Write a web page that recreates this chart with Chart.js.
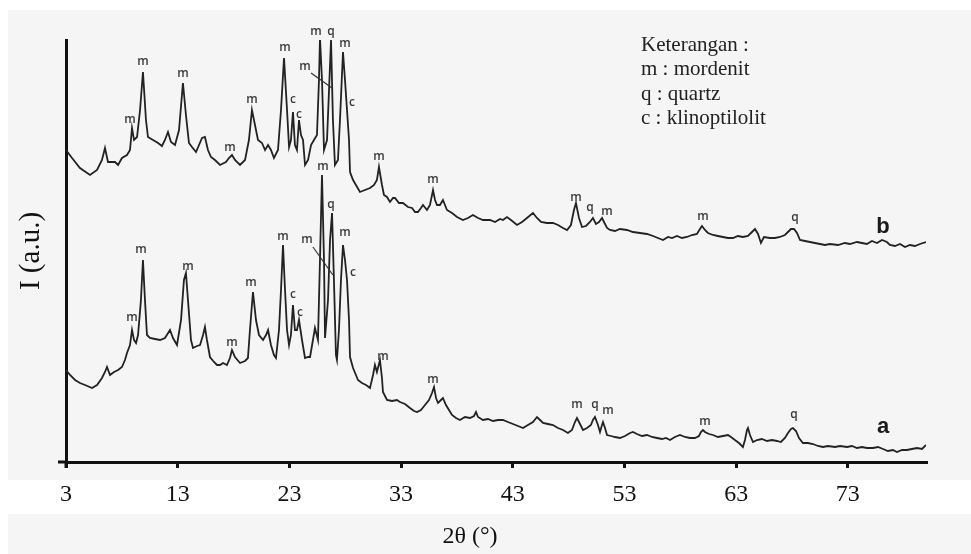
<!DOCTYPE html>
<html>
<head>
<meta charset="utf-8">
<title>XRD zeolit</title>
<script src="https://cdn.jsdelivr.net/npm/chart.js@4.4.1/dist/chart.umd.min.js"></script>
<style>
  body { margin: 0; background: #fff; }
  canvas { display: block; }
</style>
</head>
<body>
<canvas id="xrd" width="971" height="554"></canvas>
<script>
// trace b (upper)
const twoThetaB = [3.00,3.54,4.25,5.15,5.78,6.22,6.49,6.76,7.39,7.66,8.01,8.46,8.73,8.91,9.09,9.36,9.63,9.89,10.16,10.34,
  10.79,11.24,11.59,11.86,12.13,12.40,12.76,13.12,13.47,13.74,14.01,14.28,14.64,14.91,15.18,15.44,15.71,15.98,16.34,16.79,
  17.32,17.59,17.86,18.13,18.58,19.03,19.38,19.65,19.92,20.19,20.55,20.82,21.09,21.35,21.62,21.98,22.25,22.52,22.79,22.97,
  23.14,23.32,23.50,23.68,23.86,24.04,24.22,24.40,24.67,24.94,25.20,25.47,25.65,25.74,25.92,26.10,26.37,26.55,26.73,26.90,
  27.08,27.35,27.53,27.80,27.98,28.16,28.34,28.43,28.70,28.96,29.32,29.77,30.22,30.58,30.84,31.02,31.29,31.47,31.74,32.01,
  32.28,32.46,32.81,33.17,33.62,33.98,34.25,34.51,34.78,34.96,35.32,35.59,35.86,36.04,36.22,36.48,36.75,37.11,37.56,38.01,
  38.54,38.99,39.44,39.89,40.33,40.96,41.41,41.86,42.12,42.48,42.84,43.38,43.83,44.27,44.81,45.17,45.53,46.06,46.60,47.05,
  47.50,47.86,48.21,48.48,48.66,48.93,49.20,49.56,49.91,50.18,50.45,50.72,50.99,51.17,51.44,51.71,52.15,52.60,53.23,53.76,
  54.39,55.02,55.56,56.00,56.45,56.90,57.26,57.70,58.15,58.60,59.05,59.49,59.76,59.94,60.21,60.48,60.93,61.37,61.82,62.27,
  62.72,63.16,63.61,64.06,64.42,64.69,64.96,65.22,65.49,66.03,66.48,66.92,67.37,67.64,67.91,68.18,68.45,68.72,69.16,69.61,
  70.06,70.51,70.95,71.40,72.12,72.74,73.19,73.82,74.27,74.71,75.16,75.61,76.06,76.50,76.77,77.22,77.67,78.12,78.56,79.01,
  79.46,80.00];
const intensityB = [312,304,294,287,292,302,314,300,300,297,304,307,312,334,322,325,352,390,342,325,
  322,319,316,322,330,320,317,332,379,347,319,315,310,317,324,325,312,305,302,297,
  300,304,307,302,297,302,322,352,337,322,319,312,317,312,304,312,352,404,352,315,
  322,350,317,312,342,327,322,297,302,317,322,327,382,424,382,312,322,372,422,342,
  297,302,342,410,382,352,322,290,282,277,270,272,274,277,282,295,277,267,265,260,
  264,264,259,259,255,254,250,250,254,257,252,257,272,262,257,257,262,252,249,245,
  242,244,247,244,242,242,240,243,242,245,242,237,240,244,249,244,240,239,239,237,
  234,232,237,252,259,244,235,236,240,244,238,240,244,240,234,232,231,233,232,230,
  229,228,226,224,222,225,224,226,224,225,227,228,233,236,232,229,227,226,225,224,
  224,226,225,226,230,233,228,219,225,224,224,225,227,230,233,233,229,222,221,220,
  219,218,217,218,217,219,218,220,219,218,221,219,222,220,217,216,218,215,217,216,
  218,220];

// trace a (lower)
const twoThetaA = [3.00,3.36,3.81,4.25,4.70,5.33,5.78,6.22,6.49,6.67,6.94,7.30,7.66,8.01,8.28,8.46,8.73,8.91,9.09,9.27,
  9.45,9.71,9.89,10.07,10.25,10.52,10.97,11.42,11.86,12.31,12.58,12.94,13.30,13.56,13.74,13.92,14.19,14.37,14.73,15.00,
  15.27,15.44,15.62,15.89,16.25,16.52,16.79,17.06,17.41,17.68,17.86,18.13,18.58,19.03,19.29,19.47,19.74,20.01,20.28,20.64,
  20.91,21.09,21.35,21.62,21.80,22.07,22.25,22.43,22.61,22.79,22.97,23.14,23.32,23.50,23.68,23.86,24.13,24.40,24.67,24.85,
  25.11,25.29,25.56,25.74,25.92,26.10,26.19,26.46,26.64,26.82,26.99,27.17,27.26,27.44,27.62,27.80,27.98,28.16,28.34,28.43,
  28.70,28.96,29.14,29.50,29.86,30.22,30.49,30.66,30.84,31.11,31.29,31.38,31.74,32.19,32.63,32.90,33.35,33.80,34.16,34.43,
  34.78,35.14,35.50,35.77,35.95,36.13,36.31,36.57,36.75,37.02,37.29,37.56,37.92,38.27,38.72,39.17,39.53,39.71,39.89,40.33,
  40.78,41.23,41.68,42.12,42.57,43.02,43.47,43.92,44.36,44.81,45.17,45.44,45.71,46.15,46.60,47.05,47.50,47.94,48.30,48.57,
  48.75,48.93,49.29,49.65,50.00,50.18,50.36,50.63,50.81,50.99,51.08,51.26,51.44,51.79,52.15,52.60,53.05,53.50,53.76,54.12,
  54.57,55.02,55.47,55.91,56.36,56.72,57.08,57.52,57.97,58.42,58.87,59.31,59.67,59.85,60.03,60.21,60.57,60.93,61.37,61.82,
  62.27,62.54,62.89,63.25,63.61,63.79,63.97,64.06,64.24,64.51,64.87,65.31,65.76,66.21,66.66,67.01,67.37,67.64,67.91,68.09,
  68.36,68.63,68.98,69.43,69.88,70.33,70.77,71.22,71.85,72.30,72.92,73.37,73.82,74.27,74.71,75.25,75.70,76.15,76.59,77.04,
  77.40,77.85,78.29,78.74,79.19,79.64,80.00];
const intensityA = [92,87,82,79,77,74,77,84,90,95,87,90,92,95,102,109,117,132,122,119,
  127,162,202,162,127,124,123,122,124,132,124,117,142,182,189,162,122,114,116,117,
  127,135,122,105,100,97,97,99,97,104,112,105,99,101,104,132,170,142,127,122,
  127,132,117,107,104,132,172,217,172,132,117,127,157,132,132,142,122,104,105,105,
  122,134,122,202,287,202,124,162,222,249,182,107,102,132,182,217,202,182,142,105,
  94,87,82,79,77,74,87,97,90,102,84,70,62,61,62,60,58,54,51,50,
  52,57,62,69,75,64,59,62,64,57,52,47,44,42,45,44,46,50,45,42,
  43,41,42,42,40,38,36,34,37,40,45,42,39,38,37,34,32,29,32,40,
  44,40,32,34,37,42,45,37,30,37,40,34,27,26,25,24,26,29,30,28,
  26,27,25,24,23,24,22,25,27,25,24,24,26,30,32,30,28,27,25,26,
  27,25,22,19,15,22,32,34,27,20,22,23,21,22,21,20,24,29,33,34,
  31,24,19,19,18,16,15,16,15,16,15,16,14,15,14,14,15,13,11,12,
  10,12,12,13,14,13,17];

const tickLabels = [3, 13, 23, 33, 43, 53, 63, 73];

// peak labels: [2theta, intensity, text]
const peakLabelsB = [
  [8.73, 342, 'm'], [9.89, 400, 'm'], [13.47, 388, 'm'], [17.68, 314, 'm'], [19.65, 362, 'm'],
  [22.61, 414, 'm'], [23.32, 362, 'c'], [23.86, 347, 'c'], [25.38, 430, 'm'], [26.73, 430, 'q'],
  [27.98, 418, 'm'], [24.40, 395, 'm'], [28.61, 359, 'c'], [31.02, 305, 'm'], [35.86, 282, 'm'],
  [48.66, 264, 'm'], [49.91, 254, 'q'], [51.44, 250, 'm'], [60.03, 245, 'm'], [68.27, 244, 'q']
];
const peakLabelsA = [
  [8.91, 144, 'm'], [9.71, 212, 'm'], [13.92, 195, 'm'], [17.86, 119, 'm'], [19.56, 179, 'm'],
  [22.43, 225, 'm'], [23.32, 167, 'c'], [23.95, 149, 'c'], [24.58, 222, 'm'], [26.01, 295, 'm'],
  [26.73, 257, 'q'], [27.98, 229, 'm'], [28.70, 189, 'c'], [31.38, 105, 'm'], [35.86, 82, 'm'],
  [48.75, 57, 'm'], [50.36, 57, 'q'], [51.53, 51, 'm'], [60.21, 40, 'm'], [68.18, 47, 'q']
];
// leader lines: [2theta1, I1, 2theta2, I2]
const leaderLines = [
  [24.94, 389, 26.82, 374],
  [25.11, 215, 26.90, 187]
];
const seriesNames = [[76.15, 235, 'b'], [76.15, 35, 'a']];
const legendLines = ['Keterangan :', 'm : mordenit', 'q : quartz', 'c : klinoptilolit'];

const toPoints = (xs, ys) => xs.map((x, i) => ({ x: x, y: ys[i] }));

const backdrop = {
  id: 'backdrop',
  beforeDraw(chart) {
    const ctx = chart.ctx;
    ctx.save();
    ctx.fillStyle = '#ffffff';
    ctx.fillRect(0, 0, chart.width, chart.height);
    ctx.fillStyle = '#f5f5f5';
    ctx.fillRect(8, 10, chart.width - 8, 470);
    ctx.fillRect(8, 514, chart.width - 8, chart.height - 514);
    ctx.restore();
  }
};

const annotations = {
  id: 'annotations',
  afterDatasetsDraw(chart) {
    const ctx = chart.ctx;
    const xs = chart.scales.x, ys = chart.scales.y;
    const area = chart.chartArea;
    ctx.save();

    // small overhang of the axes past their crossing point
    ctx.strokeStyle = '#111';
    ctx.lineWidth = 3;
    ctx.beginPath();
    ctx.moveTo(area.left - 8, area.bottom);
    ctx.lineTo(area.left, area.bottom);
    ctx.moveTo(area.left, area.bottom);
    ctx.lineTo(area.left, area.bottom + 6);
    ctx.stroke();

    ctx.fillStyle = '#3a3a3a';
    ctx.font = '600 12px "Open Sans", sans-serif';
    ctx.textAlign = 'center';
    ctx.textBaseline = 'middle';
    peakLabelsB.concat(peakLabelsA).forEach(p => {
      ctx.fillText(p[2], xs.getPixelForValue(p[0]), ys.getPixelForValue(p[1]));
    });
    ctx.strokeStyle = '#333';
    ctx.lineWidth = 1.2;
    leaderLines.forEach(l => {
      ctx.beginPath();
      ctx.moveTo(xs.getPixelForValue(l[0]), ys.getPixelForValue(l[1]));
      ctx.lineTo(xs.getPixelForValue(l[2]), ys.getPixelForValue(l[3]));
      ctx.stroke();
    });
    ctx.fillStyle = '#1a1a1a';
    ctx.font = 'bold 22px "Liberation Sans", sans-serif';
    seriesNames.forEach(s => {
      ctx.fillText(s[2], xs.getPixelForValue(s[0]), ys.getPixelForValue(s[1]));
    });

    // legend box text
    ctx.fillStyle = '#222';
    ctx.textAlign = 'left';
    ctx.textBaseline = 'alphabetic';
    ctx.font = '21px "Liberation Serif", serif';
    legendLines.forEach((t, i) => ctx.fillText(t, 641, 51 + i * 24.3));

    // axis titles
    ctx.fillStyle = '#111';
    ctx.textAlign = 'center';
    ctx.textBaseline = 'middle';
    ctx.font = '24px "Liberation Serif", serif';
    ctx.fillText('2\u03B8 (\u00B0)', 470, 537);
    ctx.translate(31, 251);
    ctx.rotate(-Math.PI / 2);
    ctx.font = '29px "Liberation Serif", serif';
    ctx.fillText('I (a.u.)', 0, 0);
    ctx.restore();
  }
};

new Chart(document.getElementById('xrd'), {
  type: 'line',
  data: {
    datasets: [
      { label: 'b', data: toPoints(twoThetaB, intensityB), borderColor: '#222', borderWidth: 1.8, pointRadius: 0, tension: 0 },
      { label: 'a', data: toPoints(twoThetaA, intensityA), borderColor: '#222', borderWidth: 1.8, pointRadius: 0, tension: 0 }
    ]
  },
  options: {
    responsive: false,
    animation: false,
    layout: { padding: { left: 0, top: 40, right: 45, bottom: 0 } },
    plugins: { legend: { display: false }, tooltip: { enabled: false } },
    scales: {
      x: {
        type: 'linear',
        min: 3,
        max: 80,
        afterBuildTicks: s => { s.ticks = tickLabels.map(v => ({ value: v })); },
        afterFit: s => { s.height = 92; },
        grid: { display: true, drawOnChartArea: false, drawTicks: true, tickLength: 6, tickWidth: 3, color: '#111', lineWidth: 3 },
        border: { display: true, color: '#111', width: 3 },
        ticks: { color: '#111', padding: 12, maxRotation: 0, autoSkip: false, font: { family: '"Liberation Serif", serif', size: 24 } }
      },
      y: {
        type: 'linear',
        min: 0,
        max: 422,
        afterFit: s => { s.width = 66; },
        grid: { display: false },
        border: { display: true, color: '#111', width: 3 },
        ticks: { display: false }
      }
    }
  },
  plugins: [backdrop, annotations]
});
</script>
</body>
</html>
